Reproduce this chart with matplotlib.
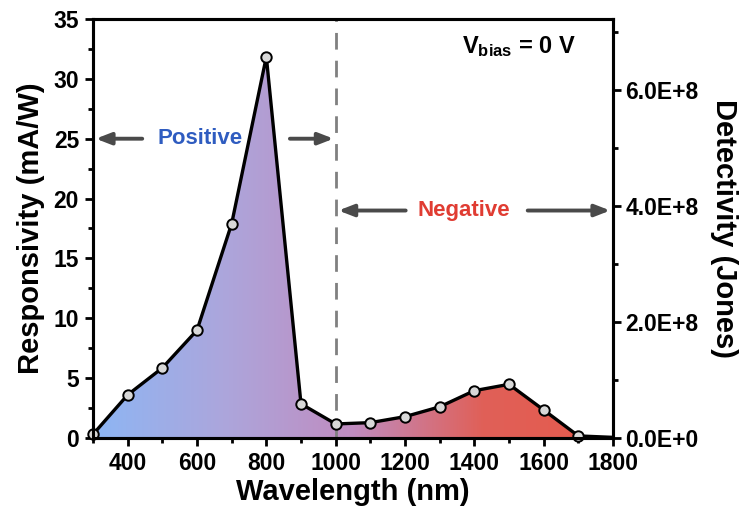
import numpy as np
import matplotlib
matplotlib.use("Agg")
import matplotlib.pyplot as plt
from matplotlib.ticker import MultipleLocator, FuncFormatter
from matplotlib.colors import LinearSegmentedColormap
from matplotlib.patches import Polygon

plt.rcParams['font.family'] = ['Liberation Sans', 'DejaVu Sans']
plt.rcParams['font.weight'] = 'bold'
plt.rcParams['mathtext.fontset'] = 'custom'
plt.rcParams['mathtext.rm'] = 'Liberation Sans:bold'
plt.rcParams['mathtext.bf'] = 'Liberation Sans:bold'

wavelength = [300, 400, 500, 600, 700, 800, 900, 1000, 1100, 1200, 1300, 1400, 1500, 1600, 1700, 1800]
responsivity = [0.3, 3.6, 5.85, 9.0, 17.9, 31.85, 2.85, 1.17, 1.28, 1.78, 2.6, 3.95, 4.48, 2.34, 0.17, 0.05]
marker_wl = wavelength[:-1]
marker_resp = responsivity[:-1]
x_ticks = [400, 600, 800, 1000, 1200, 1400, 1600, 1800]
y_ticks = [0, 5, 10, 15, 20, 25, 30, 35]
det_ticks = [0, 2e8, 4e8, 6e8]
det_max = 7.22e8

fig = plt.figure(figsize=(7.47, 5.22), dpi=100)
ax = fig.add_axes([0.1245, 0.161, 0.6961, 0.8026])
ax.set_xlim(300, 1800)
ax.set_ylim(0, 35)

# gradient fill
cmap = LinearSegmentedColormap.from_list('bp', ['#8db6f4', '#aca6dc', '#c08cc0', '#e06058', '#e65a4c'])
grad = np.linspace(0, 1, 512).reshape(1, -1)
im = ax.imshow(grad, extent=[300, 1800, 0, 35], aspect='auto', cmap=cmap, zorder=1)
verts = list(zip(wavelength, responsivity)) + [(1800, 0), (300, 0)]
poly = Polygon(verts, closed=True, facecolor='none', edgecolor='none', transform=ax.transData)
ax.add_patch(poly)
im.set_clip_path(poly)

ax.plot(wavelength, responsivity, color='black', lw=2.4, zorder=3, clip_on=False)
ax.plot(marker_wl, marker_resp, 'o', ms=7.5, mfc='#d8d8d8', mec='black', mew=1.4, zorder=4, clip_on=False)

ax.axvline(1000, color='#808080', lw=2, ls=(0, (6, 4)), zorder=2)

# arrows and labels
arrow_kw = dict(arrowstyle='-|>,head_length=0.9,head_width=0.35', color='#4a4a4a', lw=2.8)
ax.annotate('', xy=(300, 25), xytext=(450, 25), arrowprops=arrow_kw, zorder=5)
ax.annotate('', xy=(1002, 25), xytext=(860, 25), arrowprops=arrow_kw, zorder=5)
ax.text(609, 25, 'Positive', color='#2f5cc0', fontsize=16, fontweight='bold', ha='center', va='center')
ax.annotate('', xy=(1000, 19), xytext=(1210, 19), arrowprops=arrow_kw, zorder=5)
ax.annotate('', xy=(1800, 19), xytext=(1546, 19), arrowprops=arrow_kw, zorder=5, annotation_clip=False)
ax.text(1370, 19, 'Negative', color='#e03c32', fontsize=16, fontweight='bold', ha='center', va='center')

ax.text(1530, 32.7, r'$\mathrm{V_{bias}}$ = 0 V', fontsize=17, fontweight='bold', ha='center', va='center')

ax.set_xticks(x_ticks)
ax.xaxis.set_minor_locator(MultipleLocator(100))
ax.set_yticks(y_ticks)
ax.yaxis.set_minor_locator(MultipleLocator(2.5))
ax.tick_params(which='major', direction='out', length=6, width=2, labelsize=16.5, pad=4)
ax.tick_params(which='minor', direction='out', length=3.5, width=2)
for lab in ax.get_xticklabels() + ax.get_yticklabels():
    lab.set_fontweight('bold')
for s in ax.spines.values():
    s.set_linewidth(2.2)

ax.set_xlabel('Wavelength (nm)', fontsize=21, fontweight='bold', labelpad=2)
ax.set_ylabel('Responsivity (mA/W)', fontsize=21, fontweight='bold', labelpad=6)

ax2 = ax.twinx()
ax2.set_ylim(0, det_max)
ax2.set_yticks(det_ticks)
ax2.yaxis.set_minor_locator(MultipleLocator(1e8))
ax2.yaxis.set_major_formatter(FuncFormatter(lambda v, p: '0.0E+0' if v == 0 else f'{v/1e8:.1f}E+8'))
ax2.tick_params(which='major', direction='out', length=6, width=2, labelsize=16.5, pad=3)
ax2.tick_params(which='minor', direction='out', length=3.5, width=2)
for lab in ax2.get_yticklabels():
    lab.set_fontweight('bold')
for s in ax2.spines.values():
    s.set_linewidth(2.2)
ax2.set_ylabel('Detectivity (Jones)', fontsize=21, fontweight='bold', rotation=270, labelpad=28)

fig.savefig('out.png', dpi=100)
